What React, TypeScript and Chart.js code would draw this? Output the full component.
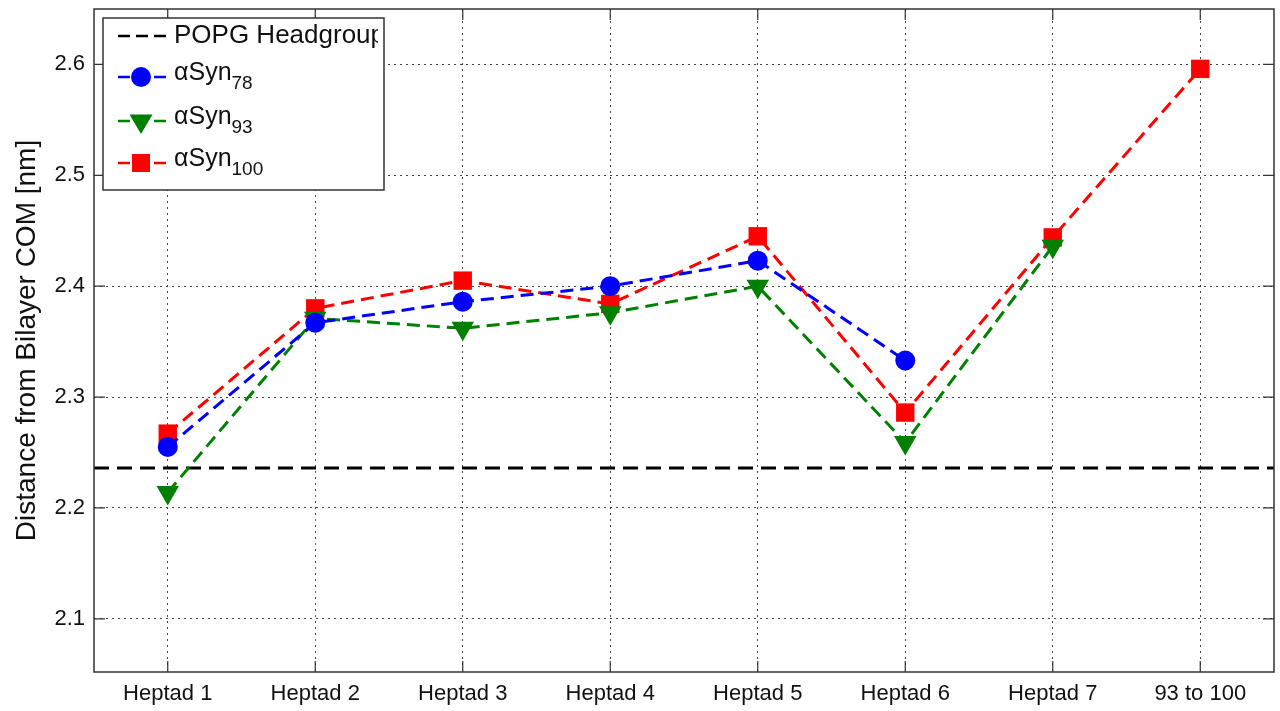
import React, { useEffect, useRef } from "react";
import { Chart, registerables } from "chart.js";

Chart.register(...registerables);

const categories = ["Heptad 1", "Heptad 2", "Heptad 3", "Heptad 4", "Heptad 5", "Heptad 6", "Heptad 7", "93 to 100"];
const syn78 = [2.255, 2.367, 2.386, 2.400, 2.423, 2.333, null, null];
const syn93 = [2.214, 2.371, 2.362, 2.376, 2.400, 2.259, 2.436, null];
const syn100 = [2.267, 2.380, 2.405, 2.384, 2.445, 2.286, 2.444, 2.596];
const popgHeadgroup = 2.236;
const yTicks = [2.1, 2.2, 2.3, 2.4, 2.5, 2.6];

const FONT = "'Liberation Sans', Arial, Helvetica, sans-serif";

const seriesStyle = [
  { name: "αSyn", sub: "78", color: "#0000ff", style: "circle", rot: 0, r: 10, data: syn78 },
  { name: "αSyn", sub: "93", color: "#008000", style: "triangle", rot: 180, r: 13, data: syn93 },
  { name: "αSyn", sub: "100", color: "#ff0000", style: "rect", rot: 0, r: 13, data: syn100 },
];

function drawMarker(ctx: CanvasRenderingContext2D, style: string, x: number, y: number, color: string) {
  ctx.save();
  ctx.fillStyle = color;
  ctx.beginPath();
  if (style === "circle") {
    ctx.arc(x, y, 10, 0, Math.PI * 2);
  } else if (style === "triangle") {
    ctx.moveTo(x - 11.5, y - 6.5);
    ctx.lineTo(x + 11.5, y - 6.5);
    ctx.lineTo(x, y + 13);
    ctx.closePath();
  } else {
    ctx.rect(x - 9, y - 9, 18, 18);
  }
  ctx.fill();
  ctx.restore();
}

const decorPlugin = {
  id: "decor",
  beforeDatasetsDraw(chart: any) {
    const { ctx, chartArea, scales } = chart;
    const y = scales.y.getPixelForValue(popgHeadgroup);
    ctx.save();
    ctx.strokeStyle = "#000";
    ctx.lineWidth = 3;
    ctx.setLineDash([15, 8]);
    ctx.beginPath();
    ctx.moveTo(chartArea.left, y);
    ctx.lineTo(chartArea.right, y);
    ctx.stroke();
    ctx.restore();
  },
  afterDraw(chart: any) {
    const { ctx, chartArea, scales } = chart;
    const { left, right, top, bottom } = chartArea;
    ctx.save();
    ctx.strokeStyle = "#333";
    ctx.lineWidth = 1.5;
    ctx.setLineDash([]);
    ctx.strokeRect(left, top, right - left, bottom - top);
    ctx.lineWidth = 1.2;
    ctx.beginPath();
    for (let i = 0; i < categories.length; i++) {
      const x = scales.x.getPixelForValue(i);
      ctx.moveTo(x, bottom);
      ctx.lineTo(x, bottom - 11);
      ctx.moveTo(x, top);
      ctx.lineTo(x, top + 11);
    }
    for (const v of yTicks) {
      const y = scales.y.getPixelForValue(v);
      ctx.moveTo(left, y);
      ctx.lineTo(left + 11, y);
      ctx.moveTo(right, y);
      ctx.lineTo(right - 11, y);
    }
    ctx.stroke();

    // legend
    const lx = left + 9, ly = top + 9, lw = 281, lh = 172;
    ctx.fillStyle = "#fff";
    ctx.fillRect(lx, ly, lw, lh);
    ctx.strokeStyle = "#333";
    ctx.lineWidth = 1.5;
    ctx.strokeRect(lx, ly, lw, lh);
    ctx.save();
    ctx.beginPath();
    ctx.rect(lx, ly, lw - 6, lh);
    ctx.clip();
    const sx0 = lx + 15, sx1 = lx + 67, tx = lx + 71;
    ctx.textBaseline = "middle";
    ctx.textAlign = "left";
    const yy = ly + 18;
    ctx.strokeStyle = "#000";
    ctx.lineWidth = 2.5;
    ctx.setLineDash([12, 6]);
    ctx.beginPath();
    ctx.moveTo(sx0, yy);
    ctx.lineTo(sx1, yy);
    ctx.stroke();
    ctx.fillStyle = "#111";
    ctx.font = `26px ${FONT}`;
    ctx.fillText("POPG Headgroup", tx, yy);
    const rows = [ly + 59, ly + 103, ly + 145];
    seriesStyle.forEach((s, i) => {
      const y = rows[i];
      ctx.strokeStyle = s.color;
      ctx.lineWidth = 2.5;
      ctx.setLineDash([12, 6]);
      ctx.beginPath();
      ctx.moveTo(sx0, y);
      ctx.lineTo(sx1, y);
      ctx.stroke();
      drawMarker(ctx, s.style, lx + 38, y, s.color);
      ctx.fillStyle = "#111";
      ctx.font = `25px ${FONT}`;
      ctx.fillText(s.name, tx, y - 4);
      const w = ctx.measureText(s.name).width;
      ctx.font = `19px ${FONT}`;
      ctx.fillText(s.sub, tx + w, y + 7);
    });
    ctx.restore();
    ctx.restore();
  },
};

export default function App() {
  const ref = useRef<HTMLCanvasElement | null>(null);
  useEffect(() => {
    document.body.style.margin = "0";
    const canvas = ref.current;
    if (!canvas) return;
    const chart = new Chart(canvas, {
      type: "line",
      data: {
        labels: categories,
        datasets: seriesStyle.map((s) => ({
          label: s.name + s.sub,
          data: s.data as any,
          borderColor: s.color,
          backgroundColor: s.color,
          borderWidth: 3,
          borderDash: [13, 7],
          pointStyle: s.style as any,
          rotation: s.rot,
          pointRadius: s.r,
          pointBorderWidth: 0,
          pointBackgroundColor: s.color,
          pointBorderColor: s.color,
          fill: false,
          tension: 0,
          spanGaps: false,
        })),
      },
      options: {
        animation: false,
        responsive: false,
        maintainAspectRatio: false,
        layout: { autoPadding: false, padding: { top: 9, right: 6, left: 0, bottom: 0 } },
        plugins: { legend: { display: false }, tooltip: { enabled: false } },
        scales: {
          x: {
            type: "category",
            offset: true,
            grid: { offset: false, color: "#444", lineWidth: 1, drawTicks: false },
            border: { display: false, dash: [2, 4] },
            ticks: { color: "#111", font: { family: FONT, size: 22 }, padding: 9, autoSkip: false, maxRotation: 0 },
            afterFit(scale: any) {
              scale.height = 39;
              scale.paddingLeft = 0;
              scale.paddingRight = 0;
            },
          },
          y: {
            type: "linear",
            min: 2.052,
            max: 2.65,
            afterBuildTicks(scale: any) {
              scale.ticks = yTicks.map((v) => ({ value: v }));
            },
            grid: { color: "#444", lineWidth: 1, drawTicks: false },
            border: { display: false, dash: [2, 4] },
            ticks: {
              color: "#111",
              font: { family: FONT, size: 22 },
              padding: 9,
              callback: (v: any) => Number(v).toFixed(1),
            },
            title: {
              display: true,
              text: "Distance from Bilayer COM [nm]",
              color: "#111",
              font: { family: FONT, size: 28 },
              padding: { top: 10, bottom: 0 },
            },
            afterFit(scale: any) {
              scale.width = 94;
              scale.paddingTop = 0;
              scale.paddingBottom = 0;
            },
          },
        },
      },
      plugins: [decorPlugin],
    });
    return () => chart.destroy();
  }, []);
  return (
    <div style={{ width: 1280, height: 711, background: "#fff" }}>
      <canvas ref={ref} width={1280} height={711} style={{ display: "block" }} />
    </div>
  );
}
